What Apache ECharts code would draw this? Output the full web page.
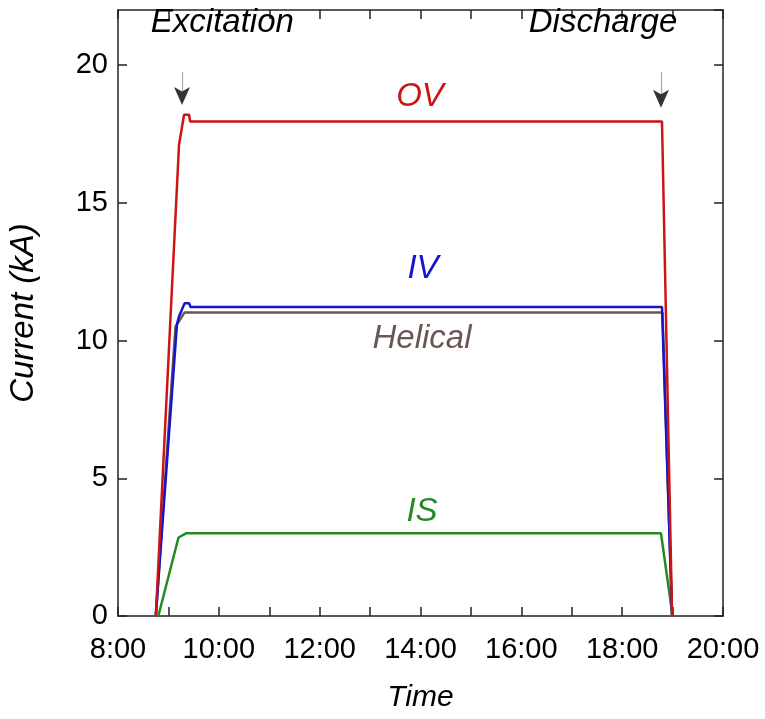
<!DOCTYPE html>
<html>
<head>
<meta charset="utf-8">
<script src="https://cdn.jsdelivr.net/npm/echarts@6/dist/echarts.min.js"></script>
<style>
  html, body { margin: 0; padding: 0; background: #fff; }
  #chart { width: 765px; height: 719px; }
</style>
</head>
<body>
<div id="chart"></div>
<script>
// time in hours (8.75 = 8:45), current in kA
const timeOV = [8.75, 9.21, 9.31, 9.41, 9.43, 18.79, 18.99]
const currentOV = [0, 17.1, 18.2, 18.2, 17.95, 17.95, 0]
const timeIV = [8.75, 9.17, 9.21, 9.32, 9.41, 9.44, 18.79, 18.99]
const currentIV = [0, 10.6, 10.87, 11.35, 11.35, 11.22, 11.22, 0]
const timeHelical = [8.75, 9.14, 9.32, 18.8, 18.99]
const currentHelical = [0, 10.5, 11.02, 11.02, 0]
const timeIS = [8.8, 9.2, 9.35, 18.77, 19.0]
const currentIS = [0, 2.85, 3.0, 3.0, 0]
// annotation arrows: start of excitation and start of discharge
const arrowTimes = [9.27, 18.77]
const arrowTips = [18.55, 18.45]
const arrowNames = ['Excitation', 'Discharge']

const chart = echarts.init(document.getElementById('chart'))

const pairs = (xs, ys) => xs.map((x, i) => [x, ys[i]])
const fontFam = '"Liberation Sans", Arial, sans-serif'
const axisCol = '#222'

function lineSeries (name, xs, ys, color, labelAt) {
  return {
    name: name,
    type: 'line',
    data: pairs(xs, ys),
    symbol: 'none',
    lineStyle: { color: color, width: 2.5 },
    itemStyle: { color: color },
    z: 3,
    markPoint: {
      symbol: 'circle',
      symbolSize: 0,
      silent: true,
      data: [{
        coord: labelAt,
        label: {
          show: true,
          formatter: name,
          color: color,
          fontSize: 33,
          fontStyle: 'italic',
          fontFamily: fontFam
        }
      }]
    }
  }
}

function frameAxis (extra) {
  return Object.assign({
    type: 'value',
    axisLine: { show: true, onZero: false, lineStyle: { color: axisCol, width: 1.5 } },
    axisTick: { show: true, inside: true, length: 9, lineStyle: { color: axisCol, width: 1.5 } },
    splitLine: { show: false }
  }, extra)
}

const option = {
  animation: false,
  backgroundColor: '#fff',
  grid: { left: 118, right: 42, top: 10, bottom: 103, outerBoundsMode: 'none' },
  xAxis: [
    frameAxis({
      min: 8,
      max: 20,
      interval: 1,
      name: 'Time',
      nameLocation: 'middle',
      nameGap: 67,
      nameTextStyle: { fontSize: 30, fontStyle: 'italic', color: '#000', fontFamily: fontFam },
      axisLabel: {
        color: '#000',
        fontSize: 29,
        fontFamily: fontFam,
        margin: 19,
        formatter: v => (v % 2 === 0 ? v + ':00' : '')
      }
    }),
    frameAxis({
      position: 'top',
      min: 8,
      max: 20,
      interval: 1,
      axisLabel: { show: false }
    })
  ],
  yAxis: [
    frameAxis({
      min: 0,
      max: 22,
      interval: 5,
      name: 'Current (kA)',
      nameLocation: 'middle',
      nameGap: 78,
      nameTextStyle: { fontSize: 33, fontStyle: 'italic', color: '#000', fontFamily: fontFam },
      axisLabel: { color: '#000', fontSize: 29, fontFamily: fontFam, margin: 10, showMaxLabel: false }
    }),
    frameAxis({
      position: 'right',
      min: 0,
      max: 22,
      interval: 5,
      axisLabel: { show: false }
    })
  ],
  series: [
    lineSeries('IS', timeIS, currentIS, '#228a22', [14.03, 3.8]),
    lineSeries('Helical', timeHelical, currentHelical, '#6b5752', [14.03, 10.05]),
    lineSeries('IV', timeIV, currentIV, '#1414cc', [14.05, 12.6]),
    lineSeries('OV', timeOV, currentOV, '#cc1414', [13.99, 18.85]),
    {
      // arrow heads, gray shafts and the two captions
      type: 'scatter',
      data: arrowTimes.map((t, i) => [t, arrowTips[i]]),
      symbol: 'arrow',
      symbolSize: [12, 18],
      symbolRotate: 180,
      itemStyle: { color: '#000' },
      silent: true,
      z: 5,
      markLine: {
        silent: true,
        symbol: ['none', 'none'],
        lineStyle: { color: '#aaa', width: 1.2, type: 'solid' },
        label: { show: false },
        data: arrowTimes.map((t, i) => [
          { coord: [t, 19.75] },
          { coord: [t, arrowTips[i] + 0.5] }
        ])
      },
      markPoint: {
        symbol: 'circle',
        symbolSize: 0,
        silent: true,
        data: [[10.07, 21.52], [17.62, 21.52]].map((c, i) => ({
          coord: c,
          label: {
            show: true,
            formatter: arrowNames[i],
            color: '#000',
            fontSize: 33,
            fontStyle: 'italic',
            fontFamily: fontFam
          }
        }))
      }
    }
  ]
}

chart.setOption(option)
</script>
</body>
</html>
